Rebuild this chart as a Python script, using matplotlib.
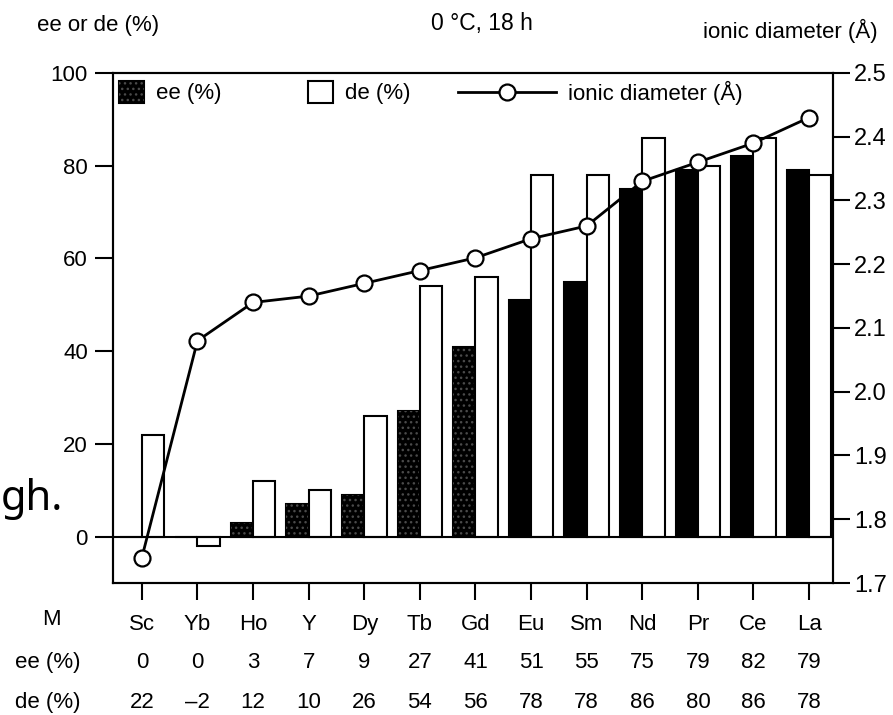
import numpy as np
import matplotlib
matplotlib.use('Agg')
from matplotlib import pyplot as plt
from matplotlib.patches import Patch
from matplotlib.lines import Line2D
from matplotlib.legend_handler import HandlerTuple
from matplotlib.transforms import blended_transform_factory

# values
metals = ['Sc', 'Yb', 'Ho', 'Y', 'Dy', 'Tb', 'Gd', 'Eu', 'Sm', 'Nd', 'Pr', 'Ce', 'La']
ee = [0, 0, 3, 7, 9, 27, 41, 51, 55, 75, 79, 82, 79]
de = [22, -2, 12, 10, 26, 54, 56, 78, 78, 86, 80, 86, 78]
diameter = [1.74, 2.08, 2.14, 2.15, 2.17, 2.19, 2.21, 2.24, 2.26, 2.33, 2.36, 2.39, 2.43]
right_ticks = [1.7, 1.8, 1.9, 2.0, 2.1, 2.2, 2.3, 2.4, 2.5]

plt.rcParams['font.family'] = ['Liberation Sans', 'DejaVu Sans']
plt.rcParams['hatch.linewidth'] = 1.0

fig = plt.figure(figsize=(8.93, 7.15), dpi=100)
ax = fig.add_axes([0.1265, 0.1846, 0.8063, 0.7134])

x = np.arange(len(metals))
w = 0.4
ee_arr = np.array(ee)

# ee bars (black, the weaker ones stippled)
ax.bar(x - w, ee, width=w, align='edge', color='black', edgecolor='black', lw=1.5)
dotted = (ee_arr > 0) & (ee_arr < 50)
ax.bar(x[dotted] - w, ee_arr[dotted], width=w, align='edge', facecolor='none',
       edgecolor='#4a4a4a', hatch='...', lw=0)
# de bars (open)
ax.bar(x, de, width=w, align='edge', color='white', edgecolor='black', lw=1.5)
ax.axhline(0, color='black', lw=1.5)

ax.set_xlim(-0.52, 12.43)
ax.set_ylim(-10, 100)
ax.set_yticks([0, 20, 40, 60, 80, 100])
ax.set_xticks(x)
ax.set_xticklabels(metals)
ax.tick_params(axis='y', direction='out', length=13, width=1.5, pad=5, labelsize=16)
ax.tick_params(axis='x', direction='out', length=12, width=1.5, pad=10, labelsize=16)
for s in ax.spines.values():
    s.set_linewidth(1.5)

# ionic diameter line on right axis
ax2 = ax.twinx()
ax2.plot(x, diameter, '-o', color='black', lw=2, ms=11.5, mfc='white',
         mec='black', mew=1.6, clip_on=False)
ax2.set_ylim(1.7, 2.5)
ax2.set_yticks(right_ticks)
ax2.set_yticklabels(['%.1f' % t for t in right_ticks])
ax2.tick_params(axis='y', direction='out', length=12, width=1.5, pad=3, labelsize=17)
for s in ax2.spines.values():
    s.set_linewidth(1.5)

# legend, three pieces in one row
h_ee = (Patch(facecolor='black', edgecolor='black', lw=1.5),
        Patch(facecolor='none', edgecolor='#4a4a4a', hatch='...', lw=0))
h_de = Patch(facecolor='white', edgecolor='black', lw=1.5)
h_id = Line2D([], [], color='black', lw=2, marker='o', ms=11.5, mfc='white',
              mec='black', mew=1.6)
leg_kw = dict(loc='center left', frameon=False, borderpad=0, borderaxespad=0,
              fontsize=16, handletextpad=0.55)
l1 = ax2.legend([h_ee], ['ee (%)'], bbox_to_anchor=(0.009, 0.961),
                handlelength=1.1, handleheight=1.1,
                handler_map={tuple: HandlerTuple(ndivide=1)}, **leg_kw)
ax2.add_artist(l1)
l2 = ax2.legend([h_de], ['de (%)'], bbox_to_anchor=(0.271, 0.961),
                handlelength=1.1, handleheight=1.1, **leg_kw)
ax2.add_artist(l2)
ax2.legend([h_id], ['ionic diameter (Å)'], bbox_to_anchor=(0.479, 0.961),
           handlelength=4.4, numpoints=1, **leg_kw)

# header texts
fig.text(0.041, 0.965, 'ee or de (%)', ha='left', va='center', fontsize=16)
fig.text(0.54, 0.967, '0 °C, 18 h', ha='center', va='center', fontsize=16.5)
fig.text(0.983, 0.957, 'ionic diameter (Å)', ha='right', va='center', fontsize=16)

# table under the axis
trans = blended_transform_factory(ax.transData, fig.transFigure)
fig.text(0.058, 0.133, 'M', ha='center', va='center', fontsize=16)
fig.text(0.053, 0.073, 'ee (%)', ha='center', va='center', fontsize=16)
fig.text(0.053, 0.018, 'de (%)', ha='center', va='center', fontsize=16)
for xi, v in zip(x, ee):
    ax.text(xi, 0.073, str(v), transform=trans, ha='center', va='center', fontsize=16)
for xi, v in zip(x, de):
    ax.text(xi, 0.018, str(v).replace('-', '\u2013'), transform=trans,
            ha='center', va='center', fontsize=16)

# page fragment at left
fig.text(0.001, 0.2867, 'gh.', ha='left', va='baseline', fontsize=30,
         family=['Noto Sans', 'DejaVu Sans'])

fig.savefig('out.png', dpi=100)
